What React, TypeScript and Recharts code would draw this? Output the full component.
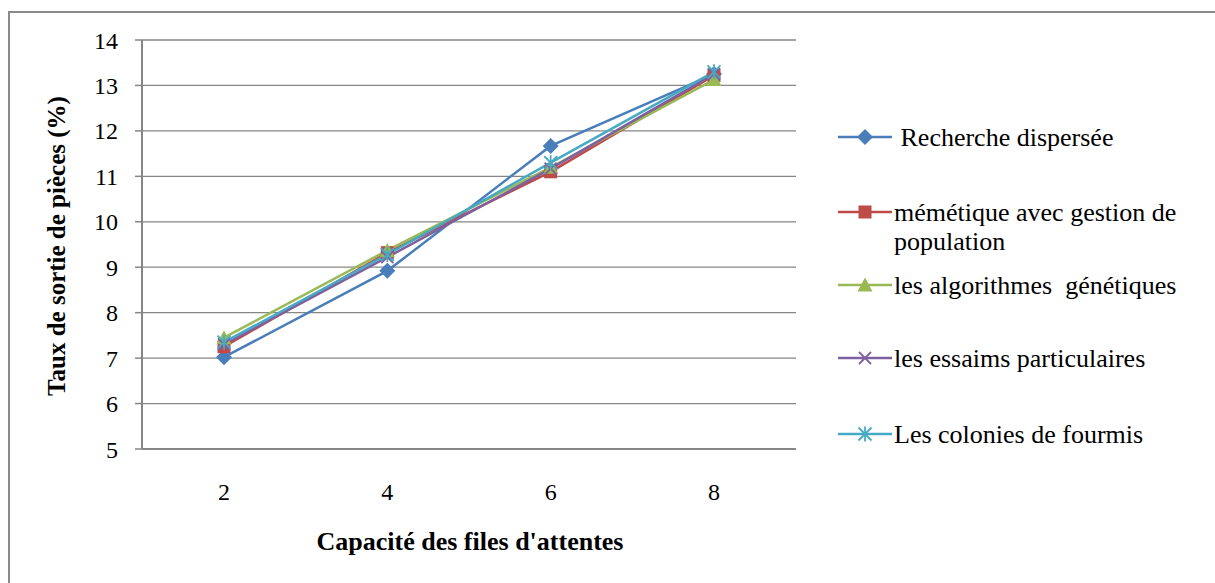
import React from "react";
import { LineChart, Line, XAxis, YAxis, CartesianGrid, Label } from "recharts";

const capacities = ["2", "4", "6", "8"];
const yTicks = [5, 6, 7, 8, 9, 10, 11, 12, 13, 14];

const rechercheDispersee = [7.02, 8.92, 11.67, 13.25];
const memetique = [7.25, 9.32, 11.1, 13.22];
const genetiques = [7.45, 9.37, 11.2, 13.13];
const essaims = [7.3, 9.22, 11.17, 13.25];
const fourmis = [7.35, 9.28, 11.3, 13.3];

const seriesNames = [
  " Recherche dispersée",
  "mémétique avec gestion de population",
  "les algorithmes  génétiques",
  "les essaims particulaires",
  "Les colonies de fourmis",
];
const seriesKeys = ["rd", "mem", "gen", "ess", "four"];
const seriesColors = ["#4A7EBB", "#BE4B48", "#98B954", "#7D60A0", "#46AAC5"];
const seriesShapes = ["diamond", "square", "triangle", "cross", "star"];

const data = capacities.map((c, i) => ({
  cap: c,
  rd: rechercheDispersee[i],
  mem: memetique[i],
  gen: genetiques[i],
  ess: essaims[i],
  four: fourmis[i],
}));

const FONT = "'Liberation Serif', 'Times New Roman', serif";

function Marker({ shape, color, cx, cy }: { shape: string; color: string; cx: number; cy: number }) {
  if (shape === "diamond") {
    const r = 8;
    return <polygon points={`${cx},${cy - r} ${cx + r},${cy} ${cx},${cy + r} ${cx - r},${cy}`} fill={color} />;
  }
  if (shape === "square") {
    const r = 6.5;
    return <rect x={cx - r} y={cy - r} width={2 * r} height={2 * r} fill={color} />;
  }
  if (shape === "triangle") {
    const r = 7.5;
    return <polygon points={`${cx},${cy - r} ${cx + r},${cy + r - 1} ${cx - r},${cy + r - 1}`} fill={color} />;
  }
  if (shape === "cross") {
    const r = 6;
    return (
      <g stroke={color} strokeWidth={1.8}>
        <line x1={cx - r} y1={cy - r} x2={cx + r} y2={cy + r} />
        <line x1={cx - r} y1={cy + r} x2={cx + r} y2={cy - r} />
      </g>
    );
  }
  const r = 6.5;
  return (
    <g stroke={color} strokeWidth={1.8}>
      <line x1={cx - r} y1={cy - r} x2={cx + r} y2={cy + r} />
      <line x1={cx - r} y1={cy + r} x2={cx + r} y2={cy - r} />
      <line x1={cx} y1={cy - r - 1} x2={cx} y2={cy + r + 1} />
    </g>
  );
}

// legend drawn as an Excel-style column to the right of the plot
function LegendBlock() {
  const rowHeights = [75, 73, 73, 76, 40];
  return (
    <div style={{ fontFamily: FONT, fontSize: 26, color: "#000" }}>
      {seriesNames.map((name, i) => (
        <div key={name} style={{ display: "flex", alignItems: "flex-start", height: rowHeights[i] }}>
          <svg width={58} height={28} style={{ flex: "none" }}>
            <line x1={2} y1={14} x2={56} y2={14} stroke={seriesColors[i]} strokeWidth={2.5} />
            <Marker shape={seriesShapes[i]} color={seriesColors[i]} cx={29} cy={14} />
          </svg>
          <div style={{ lineHeight: "29px", width: 320, whiteSpace: "pre", marginTop: 0 }}>
            {i === 1 ? "mémétique avec gestion de\npopulation" : name}
          </div>
        </div>
      ))}
    </div>
  );
}

export default function App() {
  return (
    <div style={{ position: "absolute", left: 0, top: 0, width: 1215, height: 583, overflow: "hidden", background: "#fff" }}>
      <div
        style={{
          position: "absolute",
          left: 8,
          top: 11,
          width: 1220,
          height: 600,
          borderTop: "2px solid #8a8a8a",
          borderLeft: "2px solid #8a8a8a",
        }}
      />
      <div style={{ position: "absolute", left: 0, top: 0 }}>
        <LineChart width={1215} height={583} data={data} margin={{ top: 40, right: 419, bottom: 34, left: 82 }}>
          <CartesianGrid vertical={false} stroke="#868686" strokeWidth={1.3} />
          <XAxis
            dataKey="cap"
            height={100}
            padding={{ left: 82, right: 82 }}
            tickLine={false}
            tickSize={0}
            tickMargin={34}
            axisLine={{ stroke: "#868686", strokeWidth: 2 }}
            tick={{ fill: "#000", fontSize: 24, fontFamily: FONT }}
          >
            <Label
              content={() => (
                <text
                  x={470}
                  y={550}
                  textAnchor="middle"
                  fontFamily={FONT}
                  fontSize={26}
                  fontWeight="bold"
                  fill="#000"
                >
                  Capacité des files d'attentes
                </text>
              )}
            />
          </XAxis>
          <YAxis
            type="number"
            domain={[5, 14]}
            ticks={yTicks}
            interval={0}
            width={60}
            tickSize={7}
            tickMargin={17}
            tickLine={{ stroke: "#868686", strokeWidth: 1.5 }}
            axisLine={{ stroke: "#868686", strokeWidth: 2 }}
            tick={{ fill: "#000", fontSize: 24, fontFamily: FONT }}
          >
            <Label
              content={() => (
                <text
                  x={56}
                  y={246}
                  transform="rotate(-90 56 246)"
                  textAnchor="middle"
                  dominantBaseline="central"
                  fontFamily={FONT}
                  fontSize={25}
                  fontWeight="bold"
                  fill="#000"
                >
                  Taux de sortie de pièces (%)
                </text>
              )}
            />
          </YAxis>
          {seriesKeys.map((key, i) => (
            <Line
              key={key}
              dataKey={key}
              name={seriesNames[i]}
              stroke={seriesColors[i]}
              strokeWidth={2.5}
              isAnimationActive={false}
              dot={(p: any) => <Marker key={`${key}-${p.index}`} shape={seriesShapes[i]} color={seriesColors[i]} cx={p.cx} cy={p.cy} />}
              activeDot={false}
            />
          ))}
        </LineChart>
      </div>
      <div style={{ position: "absolute", left: 836, top: 123, width: 375 }}>
        <LegendBlock />
      </div>
    </div>
  );
}
